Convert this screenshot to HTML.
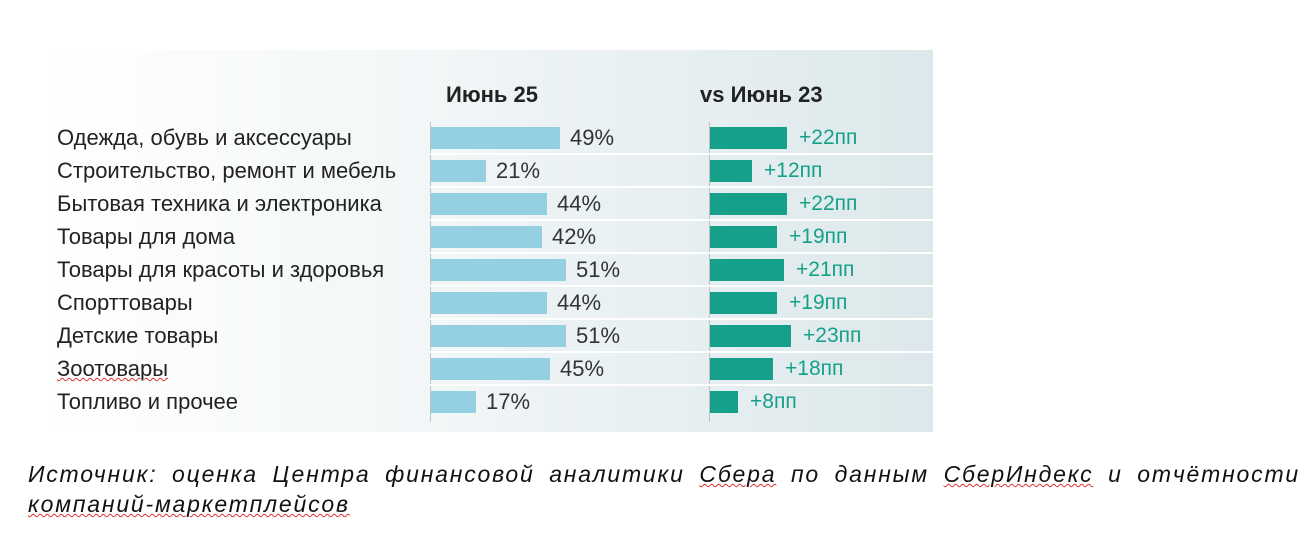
<!DOCTYPE html>
<html><head><meta charset="utf-8"><style>
body{margin:0;width:1315px;height:539px;background:#fff;position:relative;overflow:hidden;font-family:"Liberation Sans",sans-serif}
#panel{position:absolute;left:40px;top:50px;width:893px;height:382px;background:linear-gradient(90deg,#ffffff 0%,#f3f7f8 40%,#dce8eb 100%)}
.t{position:absolute;white-space:nowrap;color:#222}
.sep{position:absolute;height:2px;background:#fff;left:430px;width:503px}
.b1{position:absolute;height:22px;background:#95cfe2}
.b2{position:absolute;height:22px;background:#16a08a}
.vl{position:absolute;width:1px;background:#b9c4c8;top:122px;height:300px}
.w{text-decoration:underline wavy #d33;text-decoration-thickness:1px}
.f{position:absolute;left:28px;width:1272px;font-size:23px;font-style:italic;color:#111;text-align:justify;text-align-last:justify;letter-spacing:1.8px}
</style></head><body>
<div id="panel"></div>
<div class="vl" style="left:430px"></div>
<div class="vl" style="left:709px"></div>
<div class="t" style="left:446px;top:82px;font-size:22px;font-weight:bold">Июнь 25</div>
<div class="t" style="left:700px;top:82px;font-size:22px;font-weight:bold">vs Июнь 23</div>
<div id="rows"></div>
<div class="f" style="top:461px">Источник: оценка Центра финансовой аналитики <span class="w">Сбера</span> по данным <span class="w">СберИндекс</span> и отчётности</div>
<div class="t" style="left:28px;top:491px;font-size:23px;font-style:italic;color:#111;letter-spacing:1.8px"><span class="w">компаний-маркетплейсов</span></div>
<script>
var d=[["Одежда, обувь и аксессуары",49,22],["Строительство, ремонт и мебель",21,12],["Бытовая техника и электроника",44,22],["Товары для дома",42,19],["Товары для красоты и здоровья",51,21],["Спорттовары",44,19],["Детские товары",51,23],["Зоотовары",45,18],["Топливо и прочее",17,8]];
var h="";
d.forEach(function(r,i){var c=138+33*i;
var w1=Math.round(r[1]*2.64),w2=Math.round(r[2]*3.5);
h+='<div class="t" style="left:57px;top:'+(c-13)+'px;font-size:22px">'+(i==7?'<span class="w">'+r[0]+'</span>':r[0])+'</div>';
h+='<div class="b1" style="left:431px;top:'+(c-11)+'px;width:'+w1+'px"></div>';
h+='<div class="t" style="left:'+(431+w1+10)+'px;top:'+(c-13)+'px;font-size:22px;color:#333">'+r[1]+'%</div>';
h+='<div class="b2" style="left:710px;top:'+(c-11)+'px;width:'+w2+'px"></div>';
h+='<div class="t" style="left:'+(710+w2+12)+'px;top:'+(c-12)+'px;font-size:21px;color:#16a08a">+'+r[2]+'пп</div>';
if(i<8)h+='<div class="sep" style="top:'+(c+15)+'px"></div>';});
document.getElementById("rows").innerHTML=h;
</script>
</body></html>
